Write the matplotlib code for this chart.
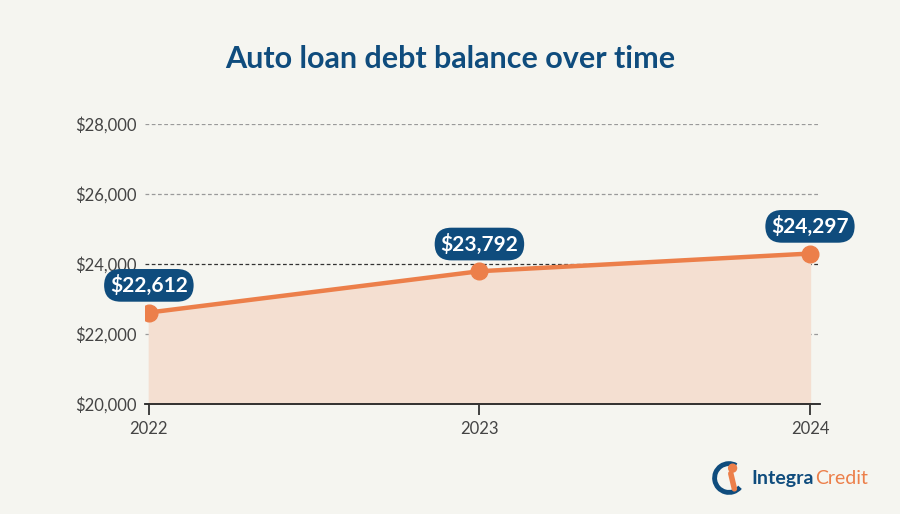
import matplotlib.pyplot as plt
from matplotlib.patches import Arc, Circle

# data
years = [2022, 2023, 2024]
balances = [22612, 23792, 24297]
labels = ["$22,612", "$23,792", "$24,297"]
y_ticks = [20000, 22000, 24000, 26000, 28000]

bg = "#f5f5f0"
navy = "#0f4c7d"
orange = "#ec7f4a"
fill_col = "#f4dfd1"

plt.rcParams['font.family'] = ['Lato', 'DejaVu Sans']

fig = plt.figure(figsize=(9, 5.14), dpi=100, facecolor=bg)
ax = fig.add_axes([0.161, 0.214, 0.75, 0.545], facecolor=bg)

# grid lines
for t in y_ticks[1:]:
    col = "#333333" if t == 24000 else "#9a9a9a"
    ax.axhline(t, color=col, lw=0.9, ls=(0, (3, 2)), zorder=1)

ax.fill_between(years, balances, 20000, color=fill_col, zorder=2)
ax.plot(years, balances, color=orange, lw=3.2, zorder=3,
        marker="o", markersize=12, solid_capstyle="round")

for x, y, s in zip(years, balances, labels):
    ax.annotate(s, (x, y), xytext=(0, 12), textcoords="offset points",
                ha="center", va="bottom", color="white", fontsize=15,
                fontweight="bold", zorder=5,
                bbox=dict(boxstyle="round,pad=0.28,rounding_size=0.8",
                          fc=navy, ec="none"))

ax.set_xlim(2021.988, 2024.03)
ax.set_ylim(20000, 28000)
ax.set_xticks(years)
ax.set_xticklabels([str(y) for y in years])
ax.set_yticks(y_ticks)
ax.set_yticklabels(["${:,}".format(t) for t in y_ticks])
ax.tick_params(axis="y", length=0, pad=6, labelsize=12, labelcolor="#444444")
ax.tick_params(axis="x", length=8, width=1.2, color="#222222", pad=4,
               labelsize=12, labelcolor="#444444")
for side in ["top", "right", "left"]:
    ax.spines[side].set_visible(False)
ax.spines["bottom"].set_color("#222222")
ax.spines["bottom"].set_linewidth(1.3)

fig.text(0.5, 0.885, "Auto loan debt balance over time", ha="center",
         va="center", fontsize=22, fontweight="bold", color=navy)

# logo
lax = fig.add_axes([0.79, 0.035, 0.04, 0.07])
lax.set_xlim(-1, 1)
lax.set_ylim(-1, 1)
lax.set_aspect("equal")
lax.axis("off")
lax.add_patch(Arc((0, 0), 1.6, 1.6, theta1=60, theta2=320, lw=3.5, color=navy))
lax.add_patch(Circle((0.2, 0.55), 0.22, color=orange))
lax.plot([0.1, 0.3], [0.25, -0.6], color=orange, lw=4, solid_capstyle="round")
t1 = fig.text(0.835, 0.07, "Integra", ha="left", va="center", fontsize=14,
              fontweight="bold", color=navy)
fig.canvas.draw()
bb = t1.get_window_extent()
x_end = bb.x1 / fig.bbox.width
fig.text(x_end + 0.001, 0.07, "Credit", ha="left", va="center", fontsize=14,
         color=orange)

fig.savefig("out.png", dpi=100, facecolor=bg)
